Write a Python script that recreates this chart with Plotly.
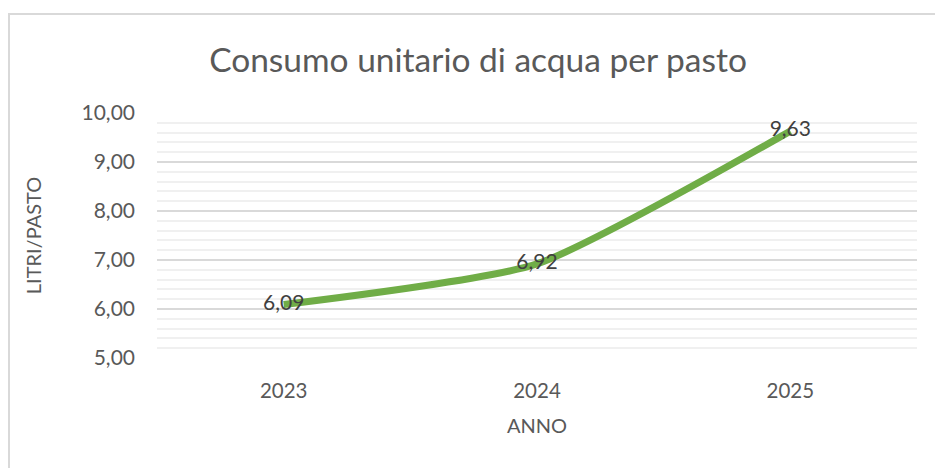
import plotly.graph_objects as go

years = ["2023", "2024", "2025"]
litri_pasto = [6.09, 6.92, 9.63]

W, H = 935, 468
L, R, T, B = 157, 18, 113, 110
pw, ph = W - L - R, H - T - B

fig = go.Figure()
fig.add_trace(go.Scatter(
    x=years, y=litri_pasto, mode="lines+text",
    line=dict(color="#70AD47", width=7, shape="spline", smoothing=0.55),
    text=litri_pasto, texttemplate="%{y:.2f}", textposition="middle center",
    textfont=dict(family="Lato", size=21, color="#404040"),
    hoverinfo="skip", showlegend=False, cliponaxis=False,
))

fig.update_layout(
    width=W, height=H, separators=",.",
    margin=dict(l=L, r=R, t=T, b=B, autoexpand=False),
    paper_bgcolor="white", plot_bgcolor="white",
    font=dict(family="Lato", color="#595959"),
    title=dict(text="Consumo unitario di acqua per pasto", x=478 / W, xanchor="center",
               y=1 - 60 / H, yanchor="middle", yref="container",
               font=dict(family="Lato", size=33.5, color="#595959")),
    xaxis=dict(type="category", range=[-0.5, 2.5], showgrid=False, zeroline=False,
               showline=False, ticks="", tickfont=dict(size=20.5, color="#595959"),
               ticklabelstandoff=18,
               title=dict(text="ANNO", font=dict(size=20, color="#595959"), standoff=18)),
    yaxis=dict(range=[5, 10], dtick=1, tickformat=".2f", showgrid=True,
               gridcolor="#d9d9d9", gridwidth=1.5, zeroline=False, showline=False,
               ticks="", tickfont=dict(size=21, color="#595959"), ticklabelstandoff=21,
               minor=dict(dtick=0.2, showgrid=True, gridcolor="#f0f0f0", gridwidth=1.5),
               title=dict(text="LITRI/PASTO", font=dict(size=20, color="#595959"), standoff=34)),
)

fig.add_shape(type="rect", xref="paper", yref="paper",
              x0=(9 - L) / pw, x1=(W + 20 - L) / pw,
              y0=-(H + 20 - (T + ph)) / ph, y1=1 + (T - 14) / ph,
              line=dict(color="#d9d9d9", width=2), fillcolor="rgba(0,0,0,0)", layer="below")

fig.write_html("out.html", config={"displayModeBar": False},
               post_script="document.body.style.margin='0';")
